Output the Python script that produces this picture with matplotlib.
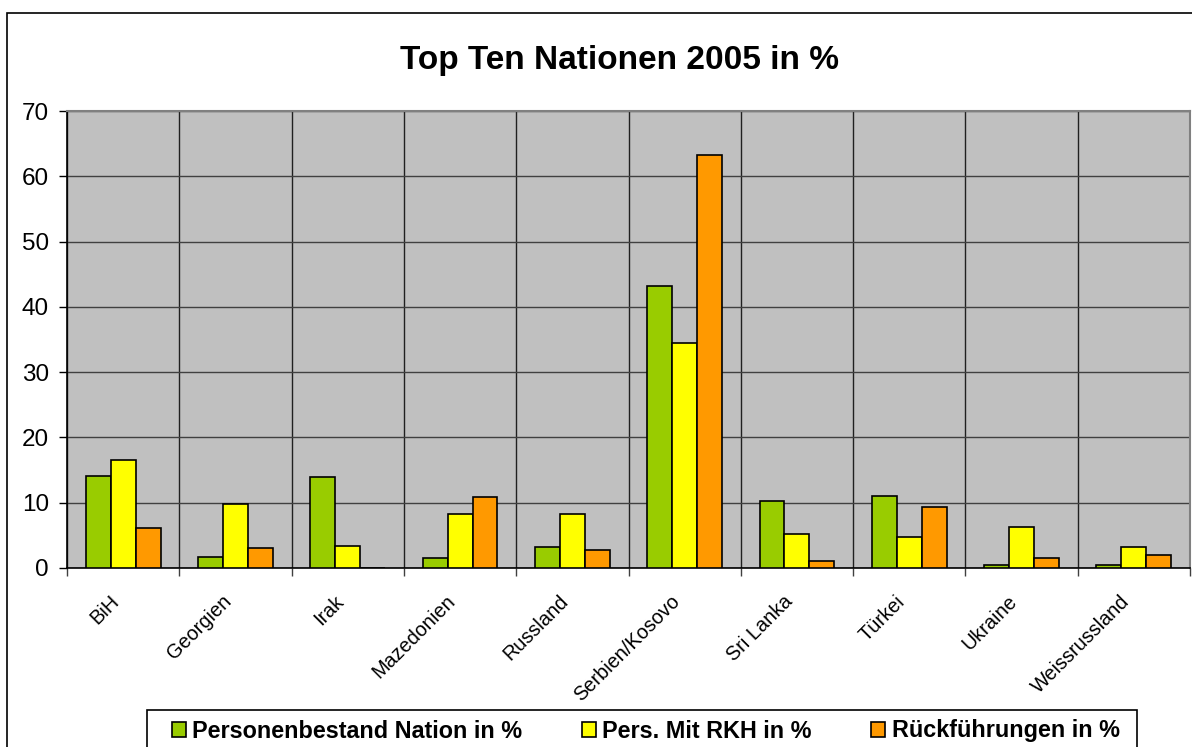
import numpy as np
import matplotlib.pyplot as plt
import matplotlib.transforms as mtransforms
from matplotlib.patches import Rectangle

plt.rcParams['font.family'] = ['Liberation Sans', 'DejaVu Sans']

#categories and series
laender = ['BiH', 'Georgien', 'Irak', 'Mazedonien', 'Russland', 'Serbien/Kosovo',
           'Sri Lanka', 'Türkei', 'Ukraine', 'Weissrussland']
bestand = [14.1, 1.7, 14.0, 1.6, 3.2, 43.2, 10.3, 11.0, 0.5, 0.4]
rkh = [16.6, 9.8, 3.4, 8.2, 8.2, 34.4, 5.2, 4.7, 6.3, 3.2]
rueck = [6.2, 3.1, 0.0, 10.8, 2.8, 63.2, 1.0, 9.4, 1.5, 2.0]
serien = ['Personenbestand Nation in %', 'Pers. Mit RKH in %', 'Rückführungen in %']
farben = ['#99CC00', '#FFFF00', '#FF9900']
yticks = [0, 10, 20, 30, 40, 50, 60, 70]

W, H = 1192, 747
fig = plt.figure(figsize=(W / 100, H / 100), dpi=100)
ax = fig.add_axes([67 / W, 1 - 568 / H, (1190 - 67) / W, (568 - 111) / H])
ax.set_facecolor('#C0C0C0')

x = np.arange(len(laender))
bw = 0.222
for i, (werte, farbe, name) in enumerate(zip([bestand, rkh, rueck], farben, serien)):
    ax.bar(x + (i - 1) * bw, werte, bw, color=farbe, edgecolor='black', linewidth=1.2,
           label=name, zorder=3)

ax.set_xlim(-0.5, len(laender) - 0.5)
ax.set_ylim(0, 70)
ax.set_yticks(yticks)
ax.set_xticks(x)
ax.set_xticklabels(laender, rotation=45, ha='right', va='top', fontsize=14.3,
                   rotation_mode='anchor')
ax.set_xticks(np.arange(len(laender) + 1) - 0.5, minor=True)
ax.tick_params(axis='x', which='major', length=0, pad=10)
ax.tick_params(axis='x', which='minor', length=6, width=1, color='#404040')
ax.tick_params(axis='y', length=6, width=1, labelsize=17.5, pad=7)
#push the slanted labels down-left like the original
shift = mtransforms.ScaledTranslation(-0.14, -0.10, fig.dpi_scale_trans)
for lab in ax.get_xticklabels():
    lab.set_transform(lab.get_transform() + shift)
ax.grid(axis='y', color='#404040', linewidth=1, zorder=1)
ax.grid(axis='x', which='minor', color='#202020', linewidth=1, zorder=1)
ax.set_axisbelow(True)
for s in ['top', 'right']:
    ax.spines[s].set_color('#808080')
    ax.spines[s].set_linewidth(1.5)
for s in ['left', 'bottom']:
    ax.spines[s].set_color('black')
    ax.spines[s].set_linewidth(1.2)

fig.text(619 / W, 1 - 60 / H, 'Top Ten Nationen 2005 in %', ha='center', va='center',
         fontsize=24, fontweight='bold')

#outer chart border
fig.patches.append(Rectangle((7 / W, -0.1), 1.2, 1 - 13 / H + 0.1, transform=fig.transFigure,
                             fill=False, edgecolor='black', linewidth=1.2))
#legend frame, cut off at the bottom as in the original
fig.patches.append(Rectangle((147 / W, -0.1), (1137 - 147) / W, 1 - 710 / H + 0.1,
                             transform=fig.transFigure, fill=False, edgecolor='black',
                             linewidth=1.2))

leg = fig.legend(loc='center left', bbox_to_anchor=(172 / W, 1 - 731 / H), ncol=3,
                 frameon=False, borderaxespad=0, borderpad=0, handlelength=0.6,
                 handleheight=0.6, handletextpad=0.27, columnspacing=2.55,
                 prop={'weight': 'bold', 'size': 16.8})

fig.savefig('out.png', dpi=100)
